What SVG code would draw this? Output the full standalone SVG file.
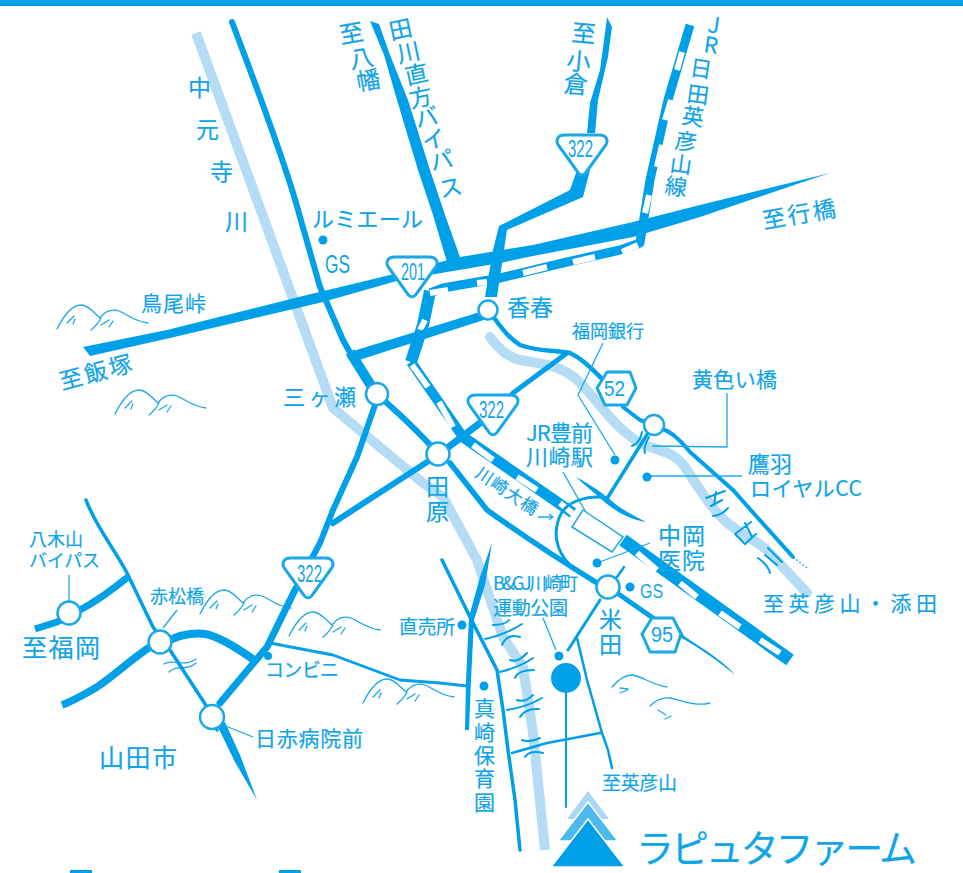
<svg xmlns="http://www.w3.org/2000/svg" xmlns:xlink="http://www.w3.org/1999/xlink" width="963" height="873" viewBox="0 0 963 873">
<style>
text{font-family:"Noto Sans CJK JP","Noto Sans",sans-serif;fill:#10a4e8;font-weight:400;stroke:#10a4e8;stroke-width:.2}
.lat{font-family:"Liberation Sans",sans-serif;stroke-width:0}
.b{fill:#00a0e9}
.r{fill:none;stroke:#00a0e9;stroke-linecap:round;stroke-linejoin:round}
.c{stroke-linecap:butt}
.river{fill:none;stroke:#b5dcf5;stroke-width:10;stroke-linejoin:round}
.w{fill:none;stroke:#fff;stroke-width:6}
.t{fill:none;stroke:#1ba8e8;stroke-width:1.3}
.node{fill:#fff;stroke:#1ba8e8;stroke-width:2.5}
.sign{fill:#fff;stroke:#1ba8e8;stroke-width:3;stroke-linejoin:round}
.hill{fill:none;stroke:#1ba8e8;stroke-width:1.3;stroke-linecap:round}
.mk{fill:none;stroke:#00a0e9;stroke-width:2;stroke-linecap:round}
</style>
<defs>
<path id="tri" d="M8,0 H42 C50,0 52,6 48,11 L30,36 C27,41 23,41 20,36 L2,11 C-2,6 0,0 8,0 Z"/>
<g id="hill"><path d="M0,0 C8,-16 16,-24 24,-24 C32,-24 38,-15 43,-11 C48,-18 55,-20 62,-18 C70,-15 76,-8 91,-6 M34,1 C40,-4 43,-9 44,-11 M10,-6 L17,-13 M16,-5 L18,-10 M44,-4 L52,-9 M52,-2 L56,-8"/></g>
</defs>
<rect class="b" x="0" y="0" width="963" height="6"/>
<rect class="b" x="70" y="870" width="22" height="3"/>
<rect class="b" x="279" y="870" width="22" height="3"/>

<g id="hills" class="hill">
<use xlink:href="#hill" href="#hill" x="57" y="329"/>
<use xlink:href="#hill" href="#hill" x="115" y="414"/>
<use xlink:href="#hill" href="#hill" x="200" y="614"/>
<use xlink:href="#hill" href="#hill" x="289" y="636"/>
<use xlink:href="#hill" href="#hill" x="363" y="703"/>
<path d="M612,687 C618,680 624,675 632,675 C642,676 652,685 667,687 M620,688 L628,689 M620,693 L628,690 M650,706 C656,700 662,697 670,698 C680,700 695,707 710,703 M658,710 L666,715 M665,719 L671,716"/>
<path d="M164,664 C172,658 184,668 196,659 M169,672 C176,664 186,672 196,663"/>
</g>

<g id="connectors">
<path class="river" d="M196,33 L333,408 L423,483 L443,497 L477,560 L503,637 L523,667 L533,733 L545,850"/>
<path class="river" style="stroke-linecap:round" d="M490,337 C500,350 508,357 520,360 C545,364 560,366 575,378 C595,395 610,425 640,443 C660,452 672,450 685,467 C700,490 715,515 733,527 C750,540 760,542 770,553 L807,593"/>

<path class="r c" stroke-width="9" d="M690,25 L668,100 L650,180 L640,243 L620,250 L567,262 L500,278 L443,288 L430,293"/>
<path class="r c" stroke-width="12" d="M430,291 L423,325 L411,362"/>
<path class="r c" stroke-width="10" d="M411,362 L463,437"/>
<path class="r c" stroke-width="11" d="M463,437 L573,513"/>
<path class="r c" stroke-width="13" d="M623,540 L790,660"/>
<path class="w" d="M473,445L493,460M517,477L537,490M560,503L577,517M637,553L657,570M680,583L697,597M720,613L740,627M760,640L780,653M412,365L428,387M439,402L453,427M430,293L448,290M477,283L487,282M523,273L547,267M573,262L595,257M622,252L638,245M645,213L649,195M657,167L662,145M665,120L671,100M677,70L682,52M420,330L425,320"/>

<path class="b" d="M83,347 L167,330 L307,295 L390,275 L460,257 L533,245 L633,222 L700,205 L830,173 L800,183 L700,217 L633,237 L533,256 L500,263 L400,280 L323,302 L170,338 L90,356 Z"/>
<path class="b" d="M370,21 L379,24 L390,55 L408,100 L430,170 L445,215 L460,257 L447,262 L433,215 L418,170 L397,100 L384,55 Z"/>
<path class="b" d="M607,17 L612,27 L608,57 L598,100 L595,133 L587,133 L590,103 L600,70 L605,33 Z"/>
<path class="b" d="M577,170 L590,170 L583,197 L507,230 L497,297 L485,297 L493,250 L499,226 L570,190 Z"/>
<path class="b" d="M350,352 L480,312 L490,318 L356,361 Z"/>
<path class="r" stroke-width="6" d="M232,22 C250,70 285,160 300,217 L320,287 L343,340 L353,358"/>
<path class="r c" stroke-width="10" d="M350,352 L375,392"/>
<path class="r" stroke-width="6" d="M377,394 C395,410 420,432 438,454"/>
<path class="r" stroke-width="6" d="M375,405 L357,457 L333,510 L320,543 L295,590"/>
<path class="r" stroke-width="7" d="M295,590 L267,647 L220,703"/>
<path class="r" stroke-width="6" d="M438,455 L373,497 L333,523"/>
<path class="r" stroke-width="7" d="M438,455 L480,423"/>
<path class="r" stroke-width="5" d="M500,410 L513,393 L567,353"/>
<path class="r" stroke-width="4.5" d="M488,310 C500,325 505,335 520,345 C540,352 555,350 570,353 C585,360 595,372 603,380"/>
<path class="r" stroke-width="4" d="M623,407 L640,420 L654,425 M660,428 C672,432 680,440 690,452 L733,490 L757,517 L793,557"/>
<path class="t" stroke-dasharray="2 2" d="M793,557 L807,568"/>
<path class="r" stroke-width="3.5" d="M648,433 L608,497"/>
<path class="b" d="M576,477 C590,484 605,495 613,502 C622,510 635,516 646,522 C632,520 618,513 607,504 C598,496 586,486 576,477 Z"/>
<path class="r" stroke-width="3" d="M608,498 C590,495 570,500 562,512 C552,530 555,550 570,565"/>
<path class="r" stroke-width="5.5" d="M450,463 L487,510 C515,530 560,560 597,583"/>
<path class="r" stroke-width="5" d="M617,593 L653,618"/>
<path class="b" d="M680,628 L684,636 C705,650 725,662 735,675 C720,662 695,645 678,636 Z"/>
<path class="r" stroke-width="2.5" d="M617,577 L624,567"/>
<path class="r" stroke-width="3" d="M600,600 L568,650"/>
<path class="r" stroke-width="2.5" d="M577,638 L587,680 L602,733 L608,750 L612,768"/>
<path class="r" stroke-width="2.5" d="M512,753 L547,743 L600,733"/>
<path class="r" stroke-width="3.5" d="M442,560 L470,617 L497,670 L503,710 L508,750 L515,800 L520,850"/>
<path class="b" d="M492,543 L485,585 L474,620 L471,680 L469,730 L465,730 L466,680 L469,617 L480,577 Z"/>
<path class="r" stroke-width="3.5" d="M86,500 C95,525 115,550 127,573 L153,627 L170,650 L207,707 L217,730"/>
<path class="b" d="M217,725 L225,722 L240,755 L257,800 L235,762 Z"/>
<path class="r c" stroke-width="7" d="M35,629 L57,622 L80,610 C95,602 112,590 128,577"/>
<path class="r c" stroke-width="7.5" d="M62,705 C75,700 85,694 97,687 C115,675 130,660 150,647"/>
<path class="r c" stroke-width="8" d="M170,640 C180,635 200,630 215,637 C228,642 240,650 254,660"/>
<path class="r" stroke-width="2.8" d="M270,643 L333,655 L400,680 L440,683 L467,686"/>
<path class="t" d="M603,343 L578,395 L615,455"/>
<path class="t" d="M727,393 L727,447 L652,446"/>
<path class="t" d="M650,476 L742,476"/>
<path class="t" d="M563,472 L592,523"/>
<path class="t" d="M597,563 L650,543"/>
<path class="t" d="M223,725 L253,737"/>
<path class="t" d="M69,575 L69,602"/>
<path class="t" d="M177,610 L163,628"/>
<path class="t" d="M543,618 L556,650"/>
<path class="t" d="M538,517 L553,517 M549,514 L553,517 L549,520"/>
<path class="r" stroke-width="2" d="M566,693 L566,807"/>
<path class="mk" d="M485,639 Q505,635 522,624 M493,625 Q505,625 509,620 M502,645 Q507,633 520,637 M500,672 Q520,667 533,658 M510,660 Q518,663 527,653 M515,678 Q518,670 534,670 M507,710 Q527,707 542,698 M517,700 Q525,703 533,695 M520,717 Q525,708 539,709 M522,740 Q530,743 540,738 M525,757 Q530,750 543,753"/>
<path class="mk" d="M632,446 Q640,443 642,432 M645,453 Q643,448 649,437 M706,498 L725,491 M711,506 L722,500 M713,516 Q722,515 728,508 M716,492 L714,505 M735,534 L751,522 M735,534 L745,544 L756,534 M745,523 L752,537 M768,548 L782,562 M765,555 L777,565 M758,558 Q768,565 770,573"/>
</g>

<g id="n-mikase"><circle class="node" cx="377" cy="394" r="11"/></g>
<g id="n-tahara"><circle class="node" cx="438" cy="454" r="11.5"/></g>
<g id="n-kawara"><circle class="node" cx="488" cy="310" r="9.5"/></g>
<g id="n-kiiro"><circle class="node" cx="654" cy="425" r="10"/></g>
<g id="n-yoneda"><circle class="node" cx="608" cy="587" r="11.5"/></g>
<g id="n-yagi"><circle class="node" cx="69" cy="613" r="11.5"/></g>
<g id="n-akamatsu"><circle class="node" cx="160" cy="642" r="11.5"/></g>
<g id="n-nisseki"><circle class="node" cx="212" cy="717" r="12"/></g>

<g id="s-322a"><use class="sign" xlink:href="#tri" href="#tri" x="557" y="135"/><text class="lat" x="568" y="157" font-size="23" textLength="25" lengthAdjust="spacingAndGlyphs">322</text></g>
<g id="s-201"><use class="sign" xlink:href="#tri" href="#tri" x="387" y="257"/><text class="lat" x="401" y="280" font-size="23" textLength="24" lengthAdjust="spacingAndGlyphs">201</text></g>
<g id="s-322b"><use class="sign" xlink:href="#tri" href="#tri" x="468" y="395"/><text class="lat" x="479" y="418" font-size="23" textLength="25" lengthAdjust="spacingAndGlyphs">322</text></g>
<g id="s-322c"><use class="sign" xlink:href="#tri" href="#tri" x="283" y="558"/><text class="lat" x="297" y="582" font-size="23" textLength="25" lengthAdjust="spacingAndGlyphs">322</text></g>
<g id="s-52"><polygon class="sign" points="597,388 607,372 630,372 636,388 627,405 605,405"/><text class="lat" x="604" y="396" font-size="22" textLength="21" lengthAdjust="spacingAndGlyphs">52</text></g>
<g id="s-95"><polygon class="sign" points="642,634 652,618 673,618 681,634 675,652 650,652"/><text class="lat" x="651" y="642" font-size="22" textLength="22" lengthAdjust="spacingAndGlyphs">95</text></g>

<g id="farm">
<circle class="b" cx="559" cy="656" r="4.5"/>
<circle class="b" cx="566" cy="678" r="15"/>
<polygon points="588,791 567,819 609,819" fill="#a8d8f4"/>
<polygon points="588,802 558,841 618,841" fill="#4db9ec" stroke="#fff" stroke-width="1.5"/>
<polygon points="588,819 551,867 625,867" fill="#00a0e9" stroke="#fff" stroke-width="1.5"/>
</g>
<g id="station"><polygon points="583,510 623,537 612,552 572,527" fill="#fff" stroke="#1ba8e8" stroke-width="1.5"/></g>
<g id="dots" class="b">
<circle cx="323" cy="240" r="4.5"/><circle cx="615" cy="460" r="4.5"/><circle cx="647" cy="477" r="4.5"/><circle cx="597" cy="563" r="4.5"/><circle cx="630" cy="587" r="4.5"/><circle cx="462" cy="625" r="4.5"/><circle cx="484" cy="686" r="4.5"/><circle cx="268" cy="656" r="4"/>
</g>

<g id="labels">
<text font-size="24" x="341 351 358" y="44 69 91" rotate="-10">至八幡</text>
<text font-size="23" x="391 399 407 411 417 424 432 441" y="40 63 85 108 128 150 171 198" rotate="-12">田川直方バイパス</text>
<text font-size="24" x="571 566 563" y="41 69 92" rotate="5">至小倉</text>
<text font-size="22" x="707 703 689 686 681 674 669 664" y="32 52 75 101 123 148 171 193" rotate="8">JR日田英彦山線</text>
<text font-size="23" x="188 196 210 225" y="96 138 180 230">中元寺川</text>
<text font-size="22" x="312" y="227" textLength="111">ルミエール</text>
<text class="lat" font-size="26" x="325" y="273" textLength="25" lengthAdjust="spacingAndGlyphs">GS</text>
<text font-size="23" x="507" y="316" textLength="46">香春</text>
<text font-size="18" x="572" y="338" textLength="72">福岡銀行</text>
<text font-size="21" x="692" y="387" textLength="85">黄色い橋</text>
<text font-size="22" x="526" y="441" textLength="67">JR豊前</text>
<text font-size="22" x="526" y="465" textLength="67">川崎駅</text>
<text font-size="22" x="748" y="472" textLength="44">鷹羽</text>
<text font-size="21" x="750" y="496" textLength="112">ロイヤルCC</text>
<text font-size="23" x="658" y="544" textLength="47">中岡</text>
<text font-size="23" x="658" y="569" textLength="47">医院</text>
<text class="lat" font-size="21" x="640" y="598" textLength="23" lengthAdjust="spacingAndGlyphs">GS</text>
<text font-size="21" x="763" y="611" textLength="174">至英彦山・添田</text>
<text font-size="17" transform="translate(474,476) rotate(34)" x="0" y="0" textLength="71">川崎大橋</text>
<text font-size="23" x="426 426" y="495 520">田原</text>
<text font-size="23" x="599 599" y="628 653">米田</text>
<text font-size="18" x="493" y="590" textLength="85">B&amp;GJ川崎町</text>
<text font-size="19" x="493" y="615" textLength="75">運動公園</text>
<text font-size="19" x="399" y="634" textLength="56">直売所</text>
<text font-size="21" x="474 474 474 474 474" y="716 740 763 786 810">真崎保育園</text>
<text font-size="19" x="602" y="790" textLength="75">至英彦山</text>
<text font-size="38" x="636" y="862" textLength="281" font-weight="300">ラピュタファーム</text>
<text font-size="21" x="255" y="746" textLength="108">日赤病院前</text>
<text font-size="25" x="99" y="767" textLength="78">山田市</text>
<text font-size="19" x="265" y="677" textLength="74">コンビニ</text>
<text font-size="18" x="150" y="603" textLength="54">赤松橋</text>
<text font-size="18" x="29" y="546" textLength="54">八木山</text>
<text font-size="18" x="29" y="567" textLength="71">バイパス</text>
<text font-size="25" x="22" y="657" textLength="78">至福岡</text>
<text font-size="21" x="141" y="311" textLength="65">鳥尾峠</text>
<text font-size="23" transform="translate(62,390) rotate(-15)" x="0" y="0" textLength="74">至飯塚</text>
<text font-size="22" x="283" y="405" textLength="73">三ヶ瀬</text>
<text font-size="23" transform="translate(764,229) rotate(-10)" x="0" y="0" textLength="74">至行橋</text>
</g>
</svg>
